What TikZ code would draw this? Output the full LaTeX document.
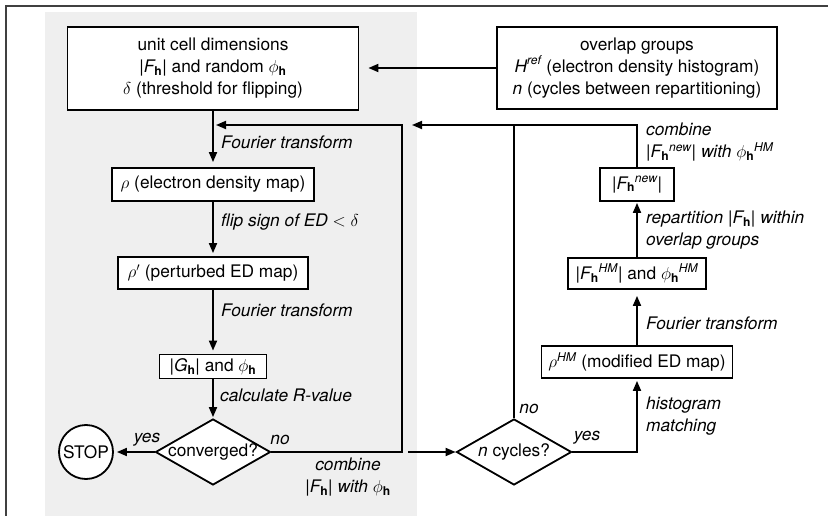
\documentclass[tikz,border=0pt]{standalone}
\usepackage{amsmath}
\usepackage{fontspec}
\setmainfont{TeX Gyre Heros}
\usetikzlibrary{arrows.meta,shapes.geometric,calc}
\newcommand{\fsz}{\fontsize{17.3}{22}\selectfont}
\newcommand{\hb}{\text{\upshape\bfseries h}}
\newcommand{\Fh}{\ensuremath{\textit{F}_{\hb}}}
\newcommand{\phih}{\ensuremath{\phi_{\hb}}}
\definecolor{bggray}{HTML}{EFEFEF}
\definecolor{framegray}{HTML}{404040}
\begin{document}
\begin{tikzpicture}[x=1pt,y=-1pt,font=\fsz,
  box/.style={draw,line width=1.8pt,fill=white,inner sep=2pt,align=center},
  dia/.style={draw,line width=1.8pt,fill=white,diamond,inner sep=0pt,minimum width=115pt,minimum height=66pt},
  lab/.style={font=\fsz\itshape,inner sep=0pt,align=left},
  ln/.style={line width=1.8pt},
  arr/.style={line width=1.8pt,-{Triangle[length=10pt,width=8pt]},shorten >=2pt}]
\useasboundingbox (0,0) rectangle (828,516);
% background and frame
\fill[bggray] (45,12) rectangle (417,516);
\draw[line width=2.2pt,framegray] (6,516) -- (6,6) -- (828,6);
% left column
\node[box,minimum width=291pt,minimum height=83pt] (init) at (213,68.5)
  {unit cell dimensions\\ |\Fh| and random \phih\\ $\delta$ (threshold for flipping)};
\node[box,minimum width=280pt,minimum height=82pt] (over) at (637,68)
  {overlap groups\\ $\textit{H}^{\textit{ref}}$ (electron density histogram)\\ \textit{n} (cycles between repartitioning)};
\node[box,minimum width=202pt,minimum height=33pt] (rho) at (213,184.5) {$\rho$ (electron density map)};
\node[box,minimum width=190pt,minimum height=32pt] (rhop) at (213,273) {$\rho'$ (perturbed ED map)};
\node[box,minimum width=107pt,minimum height=24pt] (G) at (213,366.5) {|\ensuremath{\textit{G}_{\hb}}| and \phih};
\node[dia] (conv) at (213,452) {\makebox[0pt]{converged?}};
\node[draw,line width=1.8pt,fill=white,circle,inner sep=0pt,minimum size=54pt] (stop) at (86,452) {STOP};
% right column
\node[dia] (ncyc) at (514,452) {\makebox[0pt]{\textit{n} cycles?}};
\node[box,minimum width=191pt,minimum height=32pt] (rhoHM) at (637,362) {$\rho^{\textit{HM}}$ (modified ED map)};
\node[box,minimum width=138pt,minimum height=31pt] (FHM) at (637,273.5) {|$\textit{F}_{\hb}{}^{\textit{HM}}$| and $\phi_{\hb}{}^{\textit{HM}}$};
\node[box,minimum width=74pt,minimum height=33pt] (Fnew) at (637,184.5) {|$\textit{F}_{\hb}{}^{\textit{new}}$|};
% coordinates
\coordinate (j1) at (402,452);
\coordinate (j2) at (402,125);
\coordinate (j3) at (408,452);
\coordinate (j4) at (637,125);
\coordinate (j5) at (412,125);
% connectors
\draw[arr,shorten >=9pt] (over.west) -- (over.west -| init.east);
\draw[arr,shorten >=5pt] (init.south) -- (rho.north);
\draw[arr,shorten >=3pt] (rho.south) -- (rhop.north);
\draw[arr,shorten >=3pt] (rhop.south) -- (G.north);
\draw[arr,shorten >=1pt] (G.south) -- (conv.north);
\draw[arr,shorten >=3pt] (conv.west) -- (stop.east);
\draw[arr,shorten >=3pt] (conv.east) -- (j1) -- (j2) -- (j2 -| init.south);
\draw[arr,shorten >=0pt] (j3) -- (ncyc.west);
\draw[arr,shorten >=2pt] (ncyc.east) -- (ncyc.east -| rhoHM.south) -- (rhoHM.south);
\draw[arr,shorten >=6pt] (rhoHM.north) -- (FHM.south);
\draw[arr,shorten >=1pt] (FHM.north) -- (Fnew.south);
\draw[arr,shorten >=0pt] (Fnew.north) -- (j4) -- (j5);
\draw[ln] (ncyc.north) -- (ncyc.north |- j4);
% labels
\node[lab,anchor=west] (l1) at (221,142) {Fourier transform};
\node[lab,anchor=west] (l2) at (221,222) {flip sign of ED \upshape$<\delta$};
\node[lab,anchor=west] (l3) at (221,310) {Fourier transform};
\node[lab,anchor=west] (l4) at (220,395) {calculate R-value};
\node[lab] (l5) at (147,440) {yes};
\node[lab] (l6) at (280,440) {no};
\node[lab,align=center] (l7) at (348,477) {combine\\ |\Fh| with \phih};
\node[lab,anchor=west] (l8) at (646,142) {combine\\ |$\textit{F}_{\hb}{}^{\textit{new}}$| with $\phi_{\hb}{}^{\textit{HM}}$};
\node[lab,anchor=west] (l9) at (646,230) {repartition |\Fh| within\\ overlap groups};
\node[lab,anchor=west] (l10) at (646,323) {Fourier transform};
\node[lab,anchor=west] (l11) at (646,416) {histogram\\ matching};
\node[lab] (l12) at (529,409) {no};
\node[lab] (l13) at (587,438) {yes};
\end{tikzpicture}
\end{document}
